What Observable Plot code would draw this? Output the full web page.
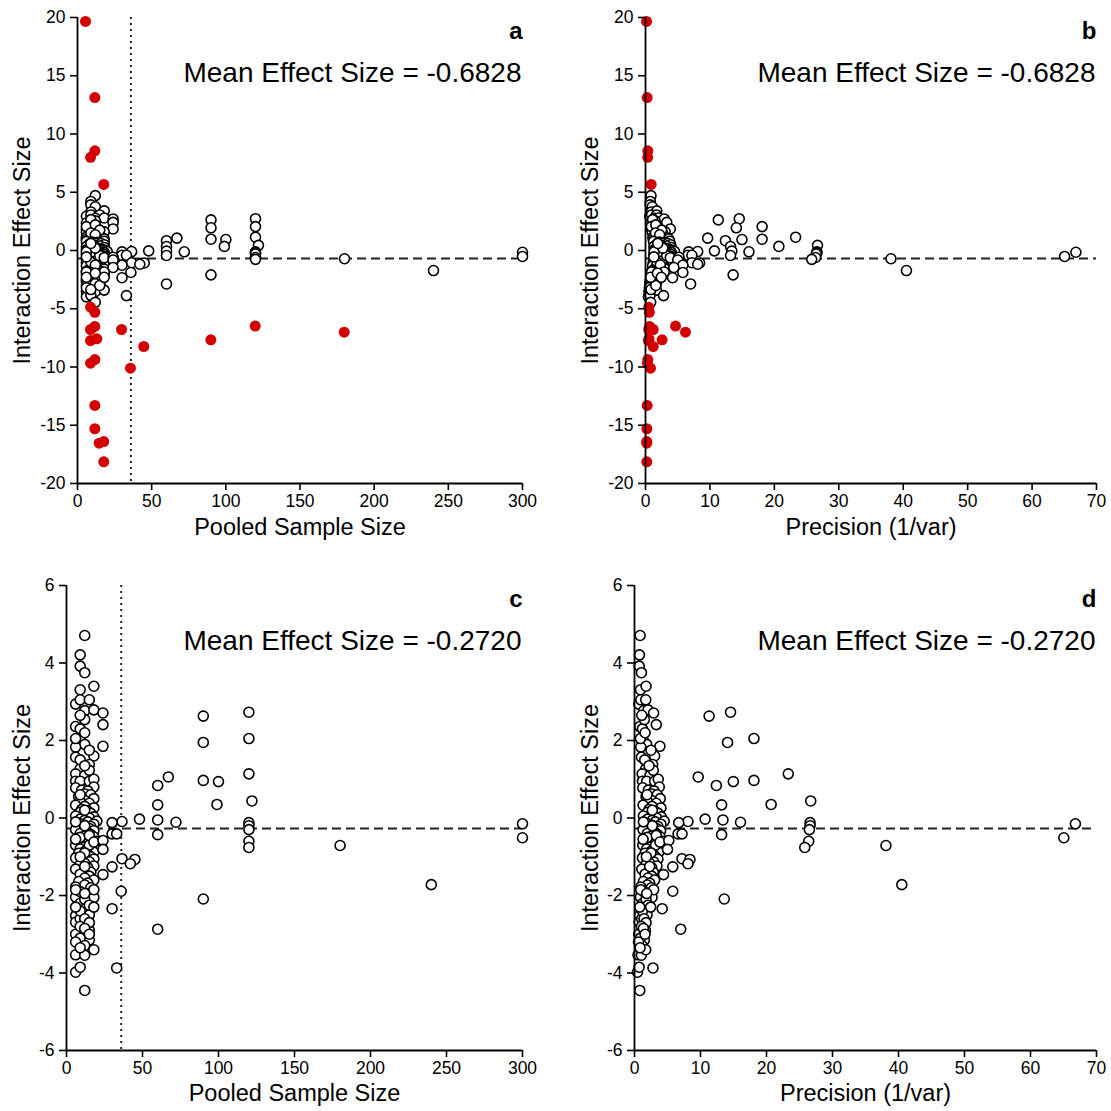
<!DOCTYPE html>
<html><head><meta charset="utf-8">
<script src="https://cdn.jsdelivr.net/npm/d3@7"></script>
<script src="https://cdn.jsdelivr.net/npm/@observablehq/plot@0.6"></script>
<style>
body{margin:0;background:#fff;}
#fig{position:relative;width:1111px;height:1111px;background:#fff;font-family:"Liberation Sans",Arial,sans-serif;}
#fig svg{position:absolute;}
</style></head><body><div id="fig"></div>
<script>
// rows: [pooled sample size, precision (1/var), interaction effect size]
const upperStudies = [
  [12,0.85,4.71],[9,0.75,4.21],[9,0.72,3.92],[12,1.05,3.75],[9,0.9,3.31],[18,1.75,3.40],
  [6,0.65,2.94],[9,0.95,3.05],[15,1.7,3.05],[12,1.4,2.77],[18,2.05,2.79],[24,2.9,2.71],
  [24,3.3,2.41],[6,0.8,2.36],[9,1.2,2.30],[12,1.5,2.54],[9,1.35,2.0],[12,1.85,1.9],
  [6,0.95,1.83],[24,3.85,1.85],[6,1.05,1.57],[18,3.05,1.6],[15,2.75,1.38],[9,1.7,1.27],
  [6,1.15,1.14],[12,2.35,1.1],[15,2.85,1.23],[6,1.2,0.95],[9,1.85,0.95],[15,3.05,0.95],
  [18,3.6,1.0],[18,3.75,0.8],[9,1.1,2.65],[6,0.9,2.05],[12,1.6,2.2],[15,2.5,1.75],
  [9,1.55,1.5],[12,2.2,1.35]
];
const middleStudies = [
  [6,1.25,0.78],[10,2.1,0.72],[14,2.95,0.7],[12,2.6,0.62],[16,3.45,0.6],[8,1.75,0.55],
  [18,3.9,0.5],[12,2.6,0.45],[9,1.95,0.42],[15,3.3,0.38],[6,1.3,0.33],[12,2.65,0.3],
  [18,4.0,0.26],[10,2.2,0.22],[14,3.1,0.18],[9,2.0,0.15],[16,3.6,0.12],[12,2.7,0.08],
  [6,1.35,0.05],[18,4.05,0.03],[15,3.35,0.0],[9,2.0,-0.03],[12,2.7,-0.06],[20,4.5,-0.08],
  [14,3.15,-0.1],[8,1.8,-0.13],[18,4.0,-0.16],[12,2.65,-0.19],[16,3.55,-0.22],[10,2.2,-0.25],
  [15,3.3,-0.27],[6,1.3,-0.3],[18,3.95,-0.33],[12,2.65,-0.35],[14,3.1,-0.38],[9,1.95,-0.4],
  [16,3.5,-0.43],[12,2.6,-0.46],[18,3.9,-0.49],[8,1.75,-0.52],[15,3.2,-0.55],[12,2.55,-0.58],
  [20,4.3,-0.6],[10,2.1,-0.63],[14,2.95,-0.66],[6,1.25,-0.7],[18,3.8,-0.72],[12,2.5,-0.75],
  [16,3.35,-0.78],[9,1.85,-0.8],[15,3.1,-0.83],[12,2.5,-0.86],[18,3.7,-0.88],[8,1.6,-0.91],
  [14,2.85,-0.94],[12,2.4,-0.97],[16,3.2,-1.0],[6,1.2,-1.03],[18,3.55,-1.06],[10,1.95,-1.1],
  [15,2.9,-1.13],[12,2.3,-1.17],[9,1.75,-1.2],[18,3.4,-1.24],[14,2.6,-1.28],[6,1.1,-1.32],
  [12,2.2,-1.36],[16,2.85,-1.4],[9,1.6,-1.45],[15,2.6,-1.5],[12,2.05,-1.55],[18,3.05,-1.6],
  [8,1.35,-1.64],[14,2.3,-1.68],[12,1.95,-1.73],[6,0.95,-1.78],[16,2.55,-1.8],
  [12,2.7,-0.2],[9,1.95,-0.5],[15,3.2,-0.7],[12,2.5,-0.9],[9,1.8,-1.0],[6,1.35,-0.1],
  [15,3.3,-0.45],[18,3.85,-0.62],[12,2.7,0.2],[9,1.9,0.6],[6,1.3,-0.55],[12,2.3,-1.25]
];
const lowerStudies = [
  [6,0.9,-2.04],[6,0.75,-2.52],[6,0.7,-2.69],[9,1.25,-2.2],[12,1.6,-2.35],[15,1.9,-2.5],
  [9,1.1,-2.6],[12,1.4,-2.75],[15,1.65,-2.9],[9,0.95,-2.95],[12,1.25,-3.05],[15,1.5,-3.15],
  [6,0.63,-3.0],[9,0.9,-3.1],[12,1.15,-3.29],[6,0.53,-3.53],[12,1.05,-3.54],[18,1.7,-3.40],
  [6,0.45,-3.98],[9,0.7,-3.85],[12,0.8,-4.45],[15,2.3,-1.95],[18,2.65,-2.05],[9,1.4,-1.9],
  [12,1.75,-2.1],[15,2.05,-2.25],[18,2.9,-1.85],[6,0.95,-1.85],[9,1.2,-2.4],[12,1.45,-2.6],
  [15,1.75,-2.7],[9,1.05,-2.8],[12,1.35,-2.85],[6,0.6,-3.2],[9,0.85,-3.35],[15,1.6,-3.0],
  [6,0.8,-2.3],[12,1.85,-1.95],[18,2.45,-2.3]
];
const spreadStudies = [
  [90,11.3,2.63],[120,14.55,2.73],[90,14.1,1.95],[120,18.1,2.05],[120,23.3,1.14],
  [67,9.65,1.06],[60,12.4,0.84],[100,14.97,0.94],[90,18.1,0.97],[60,13.2,0.34],
  [99,20.7,0.35],[122,26.7,0.44],[48,10.7,-0.03],[60,13.4,-0.05],[72,16.06,-0.11],
  [120,26.6,-0.12],[120,26.6,-0.2],[120,26.5,-0.3],[120,26.4,-0.6],[120,25.8,-0.76],
  [60,13.2,-0.43],[180,38.1,-0.71],[300,66.8,-0.15],[300,65.05,-0.51],[240,40.5,-1.72],
  [90,13.6,-2.09],[60,7.0,-2.87],[36.5,8.1,-0.09],[30,6.7,-0.12],[30,6.6,-0.41],
  [33,7.2,-0.41],[24,5.2,-0.58],[24,5.0,-0.81],[36.5,7.2,-1.05],[45,8.4,-1.07],
  [42,8.1,-1.18],[30,5.8,-1.26],[24,4.4,-1.46],[36,5.8,-1.89],[30,4.2,-2.34],[33,2.8,-3.87]
];
const outlierStudies = [
  [5.4,0.16,19.66],[11.7,0.26,13.13],[11.7,0.36,8.56],[8.8,0.34,8.0],[17.7,0.88,5.67],
  [8.8,0.5,-4.87],[11.7,0.6,-5.3],[8.8,0.5,-6.78],[11.7,0.62,-6.52],[29.7,1.2,-6.78],
  [8.8,0.45,-7.73],[13,0.55,-7.58],[44.7,1.2,-8.24],[89.9,2.58,-7.67],[8.8,0.3,-9.67],
  [11.7,0.36,-9.36],[35.7,0.78,-10.1],[11.7,0.26,-13.3],[11.7,0.2,-15.3],[14.6,0.2,-16.54],
  [17.7,0.2,-16.4],[17.7,0.2,-18.14],[119.8,4.66,-6.49],[179.8,6.2,-7.01]
];
const meanAll = -0.6828;
const meanTrimmed = -0.2720;
const meanAllLabel = "Mean Effect Size = -0.6828";
const meanTrimmedLabel = "Mean Effect Size = -0.2720";
const sampleCutoff = 36;
const sizeTicks = [0, 50, 100, 150, 200, 250, 300];
const precTicks = [0, 10, 20, 30, 40, 50, 60, 70];
const yTicksAll = [-20, -15, -10, -5, 0, 5, 10, 15, 20];
const yTicksTrim = [-6, -4, -2, 0, 2, 4, 6];
const xLabelSize = "Pooled Sample Size";
const xLabelPrec = "Precision (1/var)";
const yLabel = "Interaction Effect Size";

const toRow = ([n, prec, es]) => ({n, prec, es});
const trimmed = [...upperStudies, ...middleStudies, ...lowerStudies, ...spreadStudies].map(toRow);
const outliers = outlierStudies.map(toRow);

function panel(o) {
  const marks = [];
  marks.push(Plot.ruleY([o.mean], {stroke: "#222", strokeWidth: 2, strokeDasharray: "9,5"}));
  if (o.cutoff != null) marks.push(Plot.ruleX([o.cutoff], {stroke: "#222", strokeWidth: 2, strokeDasharray: "2,4"}));
  marks.push(Plot.dot(o.data, {x: o.xKey, y: "es", r: 5, stroke: "black", strokeWidth: 1.6, fill: "white"}));
  if (o.outliers) marks.push(Plot.dot(o.outliers, {x: o.xKey, y: "es", r: 5.5, fill: "#d40000"}));
  marks.push(Plot.ruleX([o.xDomain[0]], {stroke: "black", strokeWidth: 1.8}));
  marks.push(Plot.ruleY([o.yDomain[0]], {stroke: "black", strokeWidth: 1.8}));
  marks.push(Plot.axisX({ticks: o.xTicks, tickSize: 7, tickPadding: 4, label: null, tickFormat: d => String(d), fontSize: 17.5, strokeWidth: 1.6}));
  marks.push(Plot.axisY({ticks: o.yTicks, tickSize: 7, tickPadding: 5, label: null, tickFormat: d => String(d), fontSize: 17.5, strokeWidth: 1.6}));
  marks.push(Plot.text([o.xLabel], {text: d => d, frameAnchor: "bottom", dy: o.xLabelDy, lineAnchor: "middle", fontSize: 23.5}));
  marks.push(Plot.text([yLabel], {text: d => d, frameAnchor: "left", dx: o.yLabelDx, rotate: -90, lineAnchor: "middle", textAnchor: "middle", fontSize: 23.5}));
  marks.push(Plot.text([o.meanLabel], {text: d => d, frameAnchor: "top-right", dy: 56, dx: -1, lineAnchor: "middle", textAnchor: "end", fontSize: 28}));
  marks.push(Plot.text([o.letter], {text: d => d, frameAnchor: "top-right", dy: 14, dx: 0, lineAnchor: "middle", textAnchor: "end", fontSize: 24, fontWeight: "bold"}));
  const svg = Plot.plot({
    width: o.width, height: o.height,
    marginLeft: o.ml, marginRight: o.mr, marginTop: o.mt, marginBottom: o.mb,
    x: {domain: o.xDomain, nice: false},
    y: {domain: o.yDomain, nice: false},
    style: {fontFamily: "'Liberation Sans', Arial, sans-serif", fontSize: "17px", color: "black", background: "transparent", overflow: "visible"},
    marks
  });
  svg.style.left = o.left + "px";
  svg.style.top = o.top + "px";
  document.getElementById("fig").appendChild(svg);
}

panel({data: trimmed, outliers, xKey: "n", xDomain: [0, 300], xTicks: sizeTicks, xLabel: xLabelSize,
  yDomain: [-20, 20], yTicks: yTicksAll, mean: meanAll, meanLabel: meanAllLabel, letter: "a", cutoff: sampleCutoff,
  left: 0, top: 0, width: 556, height: 555, ml: 77, mr: 34, mt: 17, mb: 72, xLabelDy: 44, yLabelDx: -55});
panel({data: trimmed, outliers, xKey: "prec", xDomain: [0, 70], xTicks: precTicks, xLabel: xLabelPrec,
  yDomain: [-20, 20], yTicks: yTicksAll, mean: meanAll, meanLabel: meanAllLabel, letter: "b", cutoff: null,
  left: 555, top: 0, width: 556, height: 555, ml: 90, mr: 15, mt: 17, mb: 72, xLabelDy: 44, yLabelDx: -55});
panel({data: trimmed, outliers: null, xKey: "n", xDomain: [0, 300], xTicks: sizeTicks, xLabel: xLabelSize,
  yDomain: [-6, 6], yTicks: yTicksTrim, mean: meanTrimmed, meanLabel: meanTrimmedLabel, letter: "c", cutoff: sampleCutoff,
  left: 0, top: 555, width: 556, height: 556, ml: 66, mr: 34, mt: 30, mb: 61, xLabelDy: 43, yLabelDx: -44});
panel({data: trimmed, outliers: null, xKey: "prec", xDomain: [0, 70], xTicks: precTicks, xLabel: xLabelPrec,
  yDomain: [-6, 6], yTicks: yTicksTrim, mean: meanTrimmed, meanLabel: meanTrimmedLabel, letter: "d", cutoff: null,
  left: 555, top: 555, width: 556, height: 556, ml: 79, mr: 15, mt: 30, mb: 61, xLabelDy: 43, yLabelDx: -44});
</script></body></html>
